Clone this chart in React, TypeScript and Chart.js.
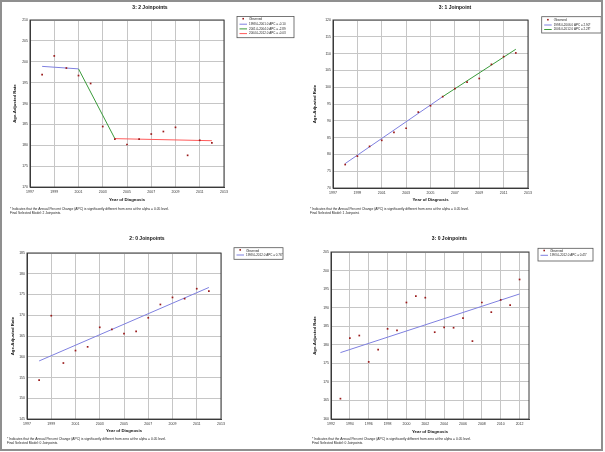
import React, { useEffect, useRef } from "react";
import { Chart, registerables } from "chart.js";
Chart.register(...registerables);

const FONT = "'Liberation Sans', Arial, sans-serif";
const NOTE_1 = "* Indicates that the Annual Percent Change (APC) is significantly different from zero at the alpha = 0.05 level.";

// ---------- Panel A (top-left) ----------
const aTitle = "3: 2 Joinpoints";
const aYears = [1998, 1999, 2000, 2001, 2002, 2003, 2004, 2005, 2006, 2007, 2008, 2009, 2010, 2011, 2012];
const aObserved = [196.9, 201.4, 198.5, 196.7, 194.8, 184.5, 181.5, 180.2, 181.5, 182.7, 183.3, 184.3, 177.6, 181.2, 180.6];
const aSeg1Years = [1998, 2001];
const aSeg1Fit = [198.9, 198.3];
const aSeg2Years = [2001, 2004];
const aSeg2Fit = [198.3, 181.6];
const aSeg3Years = [2004, 2012];
const aSeg3Fit = [181.6, 181.1];
const aLabels = ["Observed", "1998.0-2001.0 APC = -0.10", "2001.0-2004.0 APC = -2.89", "2004.0-2012.0 APC = -0.03"];
const aXTicks = [1997, 1999, 2001, 2003, 2005, 2007, 2009, 2011, 2013];
const aYTicks = [170, 175, 180, 185, 190, 195, 200, 205, 210];
const aNote = [NOTE_1, "Final Selected Model: 2 Joinpoints."];

// ---------- Panel B (top-right) ----------
const bTitle = "3: 1 Joinpoint";
const bYears = [1998, 1999, 2000, 2001, 2002, 2003, 2004, 2005, 2006, 2007, 2008, 2009, 2010, 2011, 2012];
const bObserved = [77.0, 79.5, 82.4, 84.2, 86.6, 87.8, 92.6, 94.5, 97.2, 99.6, 101.5, 102.6, 106.8, 109.1, 110.2];
const bSeg1Years = [1998, 2006];
const bSeg1Fit = [77.3, 97.2];
const bSeg2Years = [2006, 2012];
const bSeg2Fit = [97.2, 111.3];
const bLabels = ["Observed", "1998.0-2006.0 APC = 2.90*", "2006.0-2012.0 APC = 2.28*"];
const bXTicks = [1997, 1999, 2001, 2003, 2005, 2007, 2009, 2011, 2013];
const bYTicks = [70, 75, 80, 85, 90, 95, 100, 105, 110, 115, 120];
const bNote = [NOTE_1, "Final Selected Model: 1 Joinpoint."];

// ---------- Panel C (bottom-left) ----------
const cTitle = "2: 0 Joinpoints";
const cYears = [1998, 1999, 2000, 2001, 2002, 2003, 2004, 2005, 2006, 2007, 2008, 2009, 2010, 2011, 2012];
const cObserved = [154.4, 169.9, 158.5, 161.5, 162.4, 167.1, 166.6, 165.6, 166.1, 169.4, 172.6, 174.3, 174.0, 176.4, 175.8];
const cFitYears = [1998, 2012];
const cFit = [159.0, 176.7];
const cLabels = ["Observed", "1998.0-2012.0 APC = 0.76*"];
const cXTicks = [1997, 1999, 2001, 2003, 2005, 2007, 2009, 2011, 2013];
const cYTicks = [145, 150, 155, 160, 165, 170, 175, 180, 185];
const cNote = [NOTE_1, "Final Selected Model: 0 Joinpoints."];

// ---------- Panel D (bottom-right) ----------
const dTitle = "3: 0 Joinpoints";
const dYears = [1993, 1994, 1995, 1996, 1997, 1998, 1999, 2000, 2001, 2002, 2003, 2004, 2005, 2006, 2007, 2008, 2009, 2010, 2011, 2012];
const dObserved = [165.5, 181.8, 182.5, 175.4, 178.7, 184.3, 183.9, 191.4, 193.1, 192.7, 183.4, 184.7, 184.6, 187.2, 181.0, 191.4, 188.8, 192.1, 190.7, 197.6];
const dFitYears = [1993, 2012];
const dFit = [177.9, 193.7];
const dLabels = ["Observed", "1993.0-2012.0 APC = 0.45*"];
const dXTicks = [1992, 1994, 1996, 1998, 2000, 2002, 2004, 2006, 2008, 2010, 2012];
const dYTicks = [160, 165, 170, 175, 180, 185, 190, 195, 200, 205];
const dNote = [NOTE_1, "Final Selected Model: 0 Joinpoints."];

const OBS_COLOR = "#9a1a1a";
const BLUE = "#7f80e0";
const GREEN = "#3a9a3a";
const RED = "#ff5a5a";
const GRID = "#c6c6c6";

const toPts = (xs: number[], ys: number[]) => xs.map((x, i) => ({ x, y: ys[i] }));

const frameAndLegend = {
  id: "boxLegend",
  beforeDatasetsDraw(chart: any) {
    const { ctx, chartArea } = chart;
    ctx.save();
    ctx.strokeStyle = "#3a3a3a";
    ctx.lineWidth = 1;
    ctx.strokeRect(chartArea.left, chartArea.top, chartArea.right - chartArea.left, chartArea.bottom - chartArea.top);
    ctx.restore();
  },
  afterDraw(chart: any, _args: any, opts: any) {
    const { ctx } = chart;
    ctx.save();
    ctx.fillStyle = "#ffffff";
    ctx.fillRect(opts.x, opts.y, opts.w, opts.h);
    ctx.strokeStyle = "#555555";
    ctx.lineWidth = 0.8;
    ctx.strokeRect(opts.x, opts.y, opts.w, opts.h);
    ctx.font = `3px ${FONT}`;
    ctx.textBaseline = "middle";
    ctx.textAlign = "left";
    chart.data.datasets.forEach((ds: any, i: number) => {
      const ry = opts.y + opts.row0 + i * opts.gap;
      if (ds.showLine) {
        ctx.strokeStyle = ds.borderColor;
        ctx.lineWidth = 1;
        ctx.beginPath();
        ctx.moveTo(opts.x + 2.5, ry);
        ctx.lineTo(opts.x + 10, ry);
        ctx.stroke();
      } else {
        ctx.fillStyle = OBS_COLOR;
        ctx.fillRect(opts.x + 5.4, ry - 1.6, 1.6, 1.6);
      }
      ctx.fillStyle = "#222222";
      ctx.fillText(ds.label, opts.x + 12, ry);
    });
    ctx.restore();
  },
};

type PanelCfg = {
  left: number; top: number; w: number; h: number;
  title: string; note: string[];
  datasets: any[];
  xMin: number; xMax: number; xTicks: number[];
  yMin: number; yMax: number; yTicks: number[];
  padL: number; padR: number; yW: number; padW: number; xH: number;
  tPt: number; tPb: number; sPt: number; sPb: number; yTitlePad: number;
  legend: { x: number; y: number; w: number; h: number; row0: number; gap: number };
};

const observedDs = (xs: number[], ys: number[], label: string) => ({
  label,
  data: toPts(xs, ys),
  showLine: false,
  pointStyle: "rect",
  pointRadius: 1.2,
  pointBackgroundColor: OBS_COLOR,
  pointBorderColor: OBS_COLOR,
  pointBorderWidth: 0,
});
const fitDs = (xs: number[], ys: number[], label: string, color: string) => ({
  label,
  data: toPts(xs, ys),
  showLine: true,
  borderColor: color,
  borderWidth: 1,
  pointRadius: 0,
});

function buildConfig(p: PanelCfg): any {
  const tickFont = { family: FONT, size: 3.5 };
  const axisTitleFont = { family: FONT, size: 4.3, weight: "bold" as const };
  return {
    type: "scatter",
    data: { datasets: p.datasets },
    plugins: [frameAndLegend],
    options: {
      animation: false,
      responsive: false,
      events: [],
      layout: { padding: { left: p.padL, right: p.padR, top: 0, bottom: 0 } },
      plugins: {
        legend: { display: false },
        tooltip: { enabled: false },
        title: {
          display: true,
          text: p.title,
          color: "#111111",
          font: { family: FONT, size: 5, weight: "bold", lineHeight: 1.2 },
          padding: { top: p.tPt, bottom: p.tPb },
        },
        subtitle: {
          display: true,
          position: "bottom",
          align: "start",
          text: p.note,
          color: "#222222",
          font: { family: FONT, size: 3.3, lineHeight: 1.2 },
          padding: { top: p.sPt, bottom: p.sPb },
        },
        boxLegend: p.legend,
      },
      scales: {
        x: {
          type: "linear",
          position: "bottom",
          min: p.xMin,
          max: p.xMax,
          afterBuildTicks: (s: any) => { s.ticks = p.xTicks.map((v) => ({ value: v })); },
          afterFit: (s: any) => { s.height = p.xH; },
          ticks: { autoSkip: false, maxRotation: 0, minRotation: 0, padding: 2.5, font: tickFont, color: "#333333", callback: (v: any) => String(v) },
          grid: { color: GRID, lineWidth: 1, drawTicks: false },
          border: { display: true, color: "#3a3a3a", width: 1 },
          title: { display: true, text: "Year of Diagnosis", color: "#111111", font: axisTitleFont, padding: { top: 0, bottom: 0 } },
        },
        y: {
          type: "linear",
          position: "left",
          min: p.yMin,
          max: p.yMax,
          afterBuildTicks: (s: any) => { s.ticks = p.yTicks.map((v) => ({ value: v })); },
          afterFit: (s: any) => { s.width = p.yW; },
          ticks: { autoSkip: false, padding: 2, font: tickFont, color: "#333333", callback: (v: any) => String(v) },
          grid: { color: GRID, lineWidth: 1, drawTicks: false },
          border: { display: true, color: "#3a3a3a", width: 1 },
          title: { display: true, text: "Age-Adjusted Rate", color: "#111111", font: axisTitleFont, padding: { top: p.yTitlePad, bottom: 0 } },
        },
        pad: {
          type: "linear",
          position: "right",
          display: true,
          ticks: { display: false },
          grid: { display: false },
          border: { display: false },
          afterFit: (s: any) => { s.width = p.padW; },
        },
      },
    },
  };
}

const panels: PanelCfg[] = [
  {
    left: 0, top: 0, w: 300, h: 225, title: aTitle, note: aNote,
    datasets: [
      observedDs(aYears, aObserved, aLabels[0]),
      fitDs(aSeg1Years, aSeg1Fit, aLabels[1], BLUE),
      fitDs(aSeg2Years, aSeg2Fit, aLabels[2], GREEN),
      fitDs(aSeg3Years, aSeg3Fit, aLabels[3], RED),
    ],
    xMin: 1997, xMax: 2013, xTicks: aXTicks, yMin: 170, yMax: 210, yTicks: aYTicks,
    padL: 10, padR: 10, yW: 20, padW: 66, xH: 15.6,
    tPt: 5, tPb: 9, sPt: 4.4, sPb: 10, yTitlePad: 2.4,
    legend: { x: 237, y: 16.5, w: 57, h: 21.2, row0: 3, gap: 4.7 },
  },
  {
    left: 300, top: 0, w: 305, h: 225, title: bTitle, note: bNote,
    datasets: [
      observedDs(bYears, bObserved, bLabels[0]),
      fitDs(bSeg1Years, bSeg1Fit, bLabels[1], BLUE),
      fitDs(bSeg2Years, bSeg2Fit, bLabels[2], GREEN),
    ],
    xMin: 1997, xMax: 2013, xTicks: bXTicks, yMin: 70, yMax: 120, yTicks: bYTicks,
    padL: 10, padR: 5, yW: 23, padW: 72, xH: 14.6,
    tPt: 5, tPb: 9, sPt: 4.4, sPb: 10, yTitlePad: 2.4,
    legend: { x: 241.7, y: 16.7, w: 59.5, h: 16.3, row0: 3.8, gap: 4.5 },
  },
  {
    left: 0, top: 225, w: 300, h: 227, title: cTitle, note: cNote,
    datasets: [
      observedDs(cYears, cObserved, cLabels[0]),
      fitDs(cFitYears, cFit, cLabels[1], BLUE),
    ],
    xMin: 1997, xMax: 2013, xTicks: cXTicks, yMin: 145, yMax: 185, yTicks: cYTicks,
    padL: 7, padR: 13, yW: 20, padW: 66, xH: 14.6,
    tPt: 11, tPb: 11, sPt: 3.7, sPb: 6.7, yTitlePad: 3.7,
    legend: { x: 234, y: 22.7, w: 49, h: 11.6, row0: 3, gap: 4.3 },
  },
  {
    left: 300, top: 225, w: 305, h: 227, title: dTitle, note: dNote,
    datasets: [
      observedDs(dYears, dObserved, dLabels[0]),
      fitDs(dFitYears, dFit, dLabels[1], BLUE),
    ],
    xMin: 1992, xMax: 2013, xTicks: dXTicks, yMin: 160, yMax: 205, yTicks: dYTicks,
    padL: 12, padR: 18, yW: 19, padW: 58, xH: 14.9,
    tPt: 11, tPb: 10, sPt: 3.4, sPb: 6.7, yTitlePad: 0.4,
    legend: { x: 238, y: 23.3, w: 55, h: 12.7, row0: 3, gap: 4 },
  },
];

function Panel({ cfg }: { cfg: PanelCfg }) {
  const ref = useRef<HTMLCanvasElement>(null);
  useEffect(() => {
    if (!ref.current) return;
    const chart = new Chart(ref.current, buildConfig(cfg));
    return () => chart.destroy();
  }, [cfg]);
  return (
    <canvas
      ref={ref}
      width={cfg.w}
      height={cfg.h}
      style={{ position: "absolute", left: cfg.left, top: cfg.top, width: cfg.w, height: cfg.h }}
    />
  );
}

export default function App() {
  return (
    <div style={{ position: "absolute", left: 0, top: 0, width: 605, height: 452, background: "#ffffff", overflow: "hidden" }}>
      {panels.map((p, i) => (
        <Panel key={i} cfg={p} />
      ))}
      <div
        style={{
          position: "absolute",
          left: 0,
          top: 0,
          width: 603,
          height: 451,
          boxSizing: "border-box",
          border: "2px solid #8f8f8f",
          pointerEvents: "none",
        }}
      />
    </div>
  );
}
